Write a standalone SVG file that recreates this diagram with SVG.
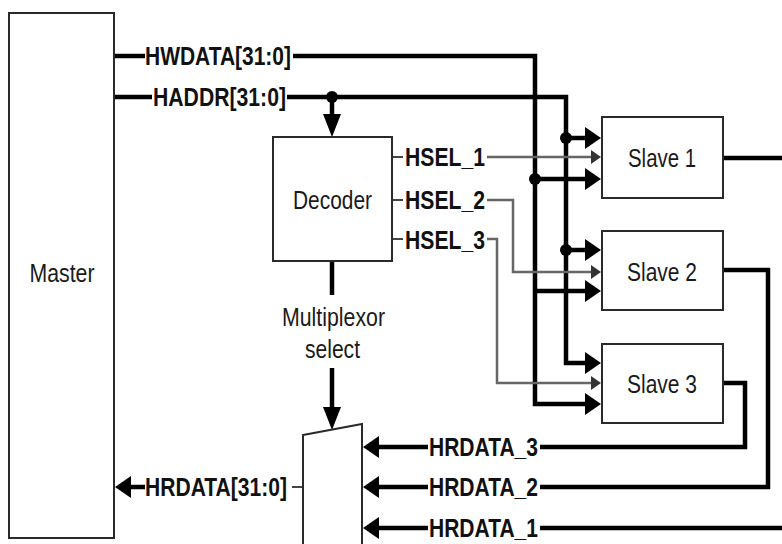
<svg xmlns="http://www.w3.org/2000/svg" xmlns:xlink="http://www.w3.org/1999/xlink" width="782" height="544" viewBox="0 0 782 544">
<style>
.box{fill:#fff;stroke:#2a2a2a;stroke-width:2}
.bus{fill:none;stroke:#000;stroke-width:4.5;stroke-linejoin:miter}
.sel{fill:none;stroke:#666;stroke-width:2.5}
.tick{fill:none;stroke:#444;stroke-width:2}
.sig{font-family:"Liberation Sans",Arial,sans-serif;font-weight:bold;font-size:25px;fill:#111}
.lbl{font-family:"Liberation Sans",Arial,sans-serif;font-size:25px;fill:#1a1a1a}
.ah{fill:#000}
.ahs{fill:#333}
</style>
<defs>
<path id="aR" class="ah" d="M-16,-11 L0,0 L-16,11 Z"/>
<path id="aL" class="ah" d="M16,-11 L0,0 L16,11 Z"/>
<path id="aD" class="ah" d="M-9,-23 L0,0 L9,-23 Z"/>
<path id="aS" class="ahs" d="M-10,-7 L0,0 L-10,7 Z"/>
<circle id="dot" r="6" fill="#000"/>
</defs>
<rect width="782" height="544" fill="#fff"/>

<g id="connectors">
<!-- HWDATA bus -->
<path class="bus" d="M114,56 H145"/>
<path class="bus" d="M293,56 H535 V404 H590"/>
<path class="bus" d="M535,179 H590"/>
<path class="bus" d="M535,291 H590"/>
<use href="#dot" x="535" y="179"/>
<use href="#aR" x="601" y="179"/>
<use href="#aR" x="601" y="291"/>
<use href="#aR" x="601" y="404"/>
<!-- HADDR bus -->
<path class="bus" d="M114,97 H152"/>
<path class="bus" d="M287,97 H566 V363 H590"/>
<path class="bus" d="M566,138 H590"/>
<path class="bus" d="M566,250 H590"/>
<use href="#dot" x="566" y="138"/>
<use href="#dot" x="566" y="250"/>
<use href="#aR" x="601" y="138"/>
<use href="#aR" x="601" y="250"/>
<use href="#aR" x="601" y="363"/>
<path class="bus" d="M332,97 V118"/>
<use href="#dot" x="332" y="97"/>
<use href="#aD" x="332" y="137"/>
<!-- HSEL -->
<path class="tick" d="M392,157 H403 M392,200 H403 M392,239 H403"/>
<path class="sel" d="M487,157 H593"/>
<path class="sel" d="M487,200 H513 V272 H593"/>
<path class="sel" d="M487,239 H497 V383 H593"/>
<use href="#aS" x="601" y="157"/>
<use href="#aS" x="601" y="272"/>
<use href="#aS" x="601" y="383"/>
<!-- multiplexor select -->
<path class="bus" d="M332,261 V295"/>
<path class="bus" d="M332,368 V410"/>
<use href="#aD" x="332" y="430"/>
<!-- slave outputs / HRDATA -->
<path class="bus" d="M723,158 H782"/>
<path class="bus" d="M723,270 H768 V487 H540"/>
<path class="bus" d="M723,383 H745 V447 H540"/>
<path class="bus" d="M782,528 H540"/>
<path class="bus" d="M428,447 H374 M428,487 H374 M428,528 H374"/>
<use href="#aL" x="363" y="447"/>
<use href="#aL" x="363" y="487"/>
<use href="#aL" x="363" y="528"/>
<!-- HRDATA[31:0] to master -->
<path class="tick" d="M303,487 H292"/>
<path class="bus" d="M145,487 H126"/>
<use href="#aL" x="115" y="487"/>
</g>

<g id="master">
<rect class="box" x="9" y="13" width="105" height="525"/>
<text class="lbl" x="62" y="282" text-anchor="middle" textLength="65" lengthAdjust="spacingAndGlyphs">Master</text>
</g>
<g id="decoder">
<rect class="box" x="273" y="137" width="119" height="124"/>
<text class="lbl" x="332.5" y="209" text-anchor="middle" textLength="79" lengthAdjust="spacingAndGlyphs">Decoder</text>
</g>
<g id="slave1">
<rect class="box" x="602" y="117" width="121" height="81"/>
<text class="lbl" x="662" y="167" text-anchor="middle" textLength="68" lengthAdjust="spacingAndGlyphs">Slave 1</text>
</g>
<g id="slave2">
<rect class="box" x="602" y="231" width="121" height="79"/>
<text class="lbl" x="662" y="281" text-anchor="middle" textLength="70" lengthAdjust="spacingAndGlyphs">Slave 2</text>
</g>
<g id="slave3">
<rect class="box" x="602" y="344" width="121" height="79"/>
<text class="lbl" x="662" y="393" text-anchor="middle" textLength="70" lengthAdjust="spacingAndGlyphs">Slave 3</text>
</g>
<g id="mux">
<path class="box" d="M303,435 L362,424 L362,560 L303,548 Z"/>
</g>

<g id="labels">
<text class="sig" x="145" y="65" textLength="146" lengthAdjust="spacingAndGlyphs">HWDATA[31:0]</text>
<text class="sig" x="153" y="106" textLength="133" lengthAdjust="spacingAndGlyphs">HADDR[31:0]</text>
<text class="sig" x="405" y="166" textLength="80" lengthAdjust="spacingAndGlyphs">HSEL_1</text>
<text class="sig" x="405" y="209" textLength="80" lengthAdjust="spacingAndGlyphs">HSEL_2</text>
<text class="sig" x="405" y="249" textLength="80" lengthAdjust="spacingAndGlyphs">HSEL_3</text>
<text class="lbl" x="333.5" y="326" text-anchor="middle" textLength="103" lengthAdjust="spacingAndGlyphs">Multiplexor</text>
<text class="lbl" x="332.5" y="358" text-anchor="middle" textLength="55" lengthAdjust="spacingAndGlyphs">select</text>
<text class="sig" x="429" y="456" textLength="109" lengthAdjust="spacingAndGlyphs">HRDATA_3</text>
<text class="sig" x="429" y="496" textLength="109" lengthAdjust="spacingAndGlyphs">HRDATA_2</text>
<text class="sig" x="429" y="537" textLength="109" lengthAdjust="spacingAndGlyphs">HRDATA_1</text>
<text class="sig" x="145" y="496" textLength="142" lengthAdjust="spacingAndGlyphs">HRDATA[31:0]</text>
</g>
</svg>
